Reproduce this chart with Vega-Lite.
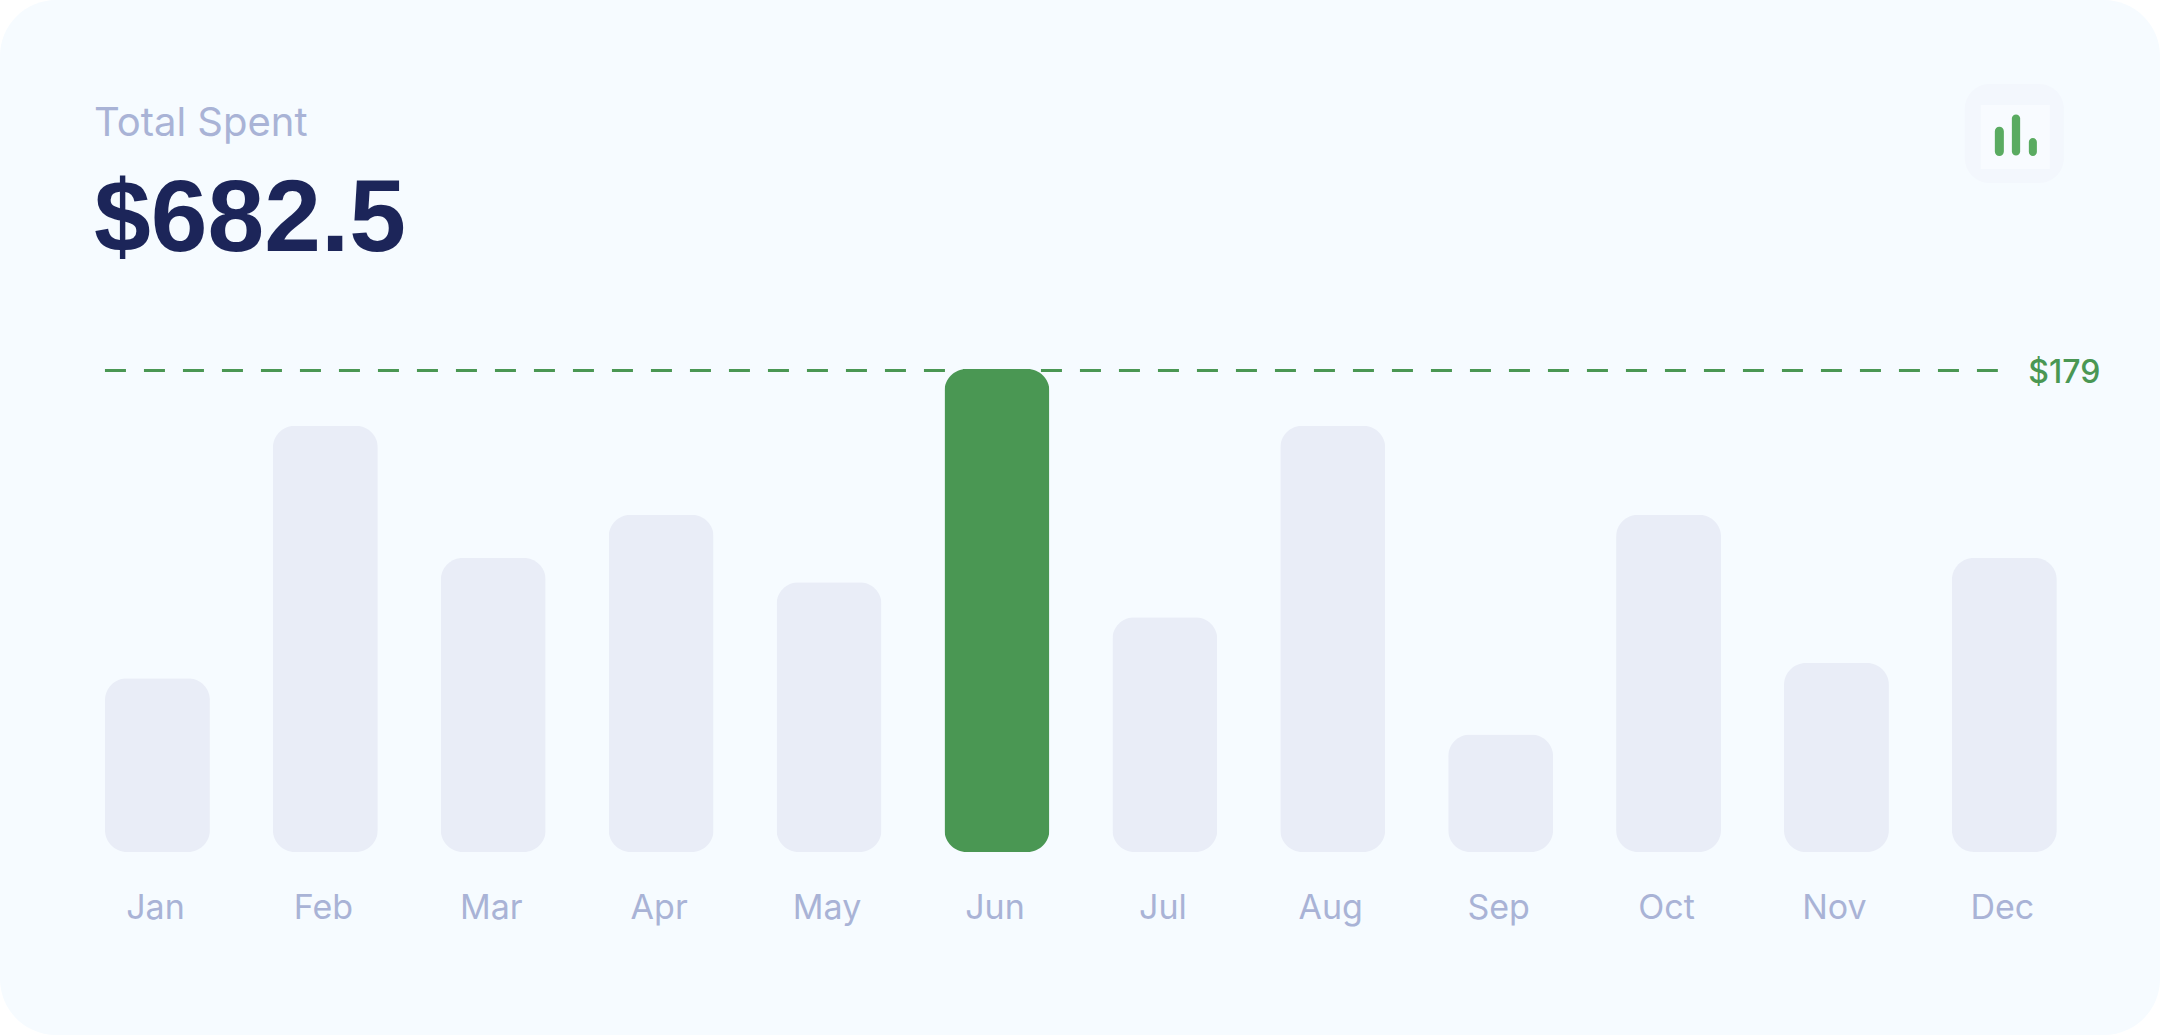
{
"$schema":"https://vega.github.io/schema/vega-lite/v6.json",
"width":2160,"height":1035,"padding":0,"autosize":{"type":"none"},
"background":"#ffffff",
"view":{"fill":"#f6fbff","stroke":null,"cornerRadius":56},
"title":{"text":"Total Spent","subtitle":"$682.5","anchor":"start","frame":"group","orient":"top","offset":-303,"dx":94,"baseline":"alphabetic","font":"Inter","fontSize":40,"fontWeight":400,"color":"#a9b3d6","subtitleFont":"Liberation Sans","subtitleFontSize":102,"subtitleFontWeight":700,"subtitleColor":"#1c2559","subtitlePadding":75},
"datasets":{
"months":[
{"month":"Jan","spent":64.4,"peak":false},{"month":"Feb","spent":158,"peak":false},{"month":"Mar","spent":109,"peak":false},{"month":"Apr","spent":125,"peak":false},{"month":"May","spent":100,"peak":false},{"month":"Jun","spent":179,"peak":true},{"month":"Jul","spent":87,"peak":false},{"month":"Aug","spent":158,"peak":false},{"month":"Sep","spent":43.5,"peak":false},{"month":"Oct","spent":125,"peak":false},{"month":"Nov","spent":70,"peak":false},{"month":"Dec","spent":109,"peak":false}],
"max":[{"start":"Jan","end":"Dec","value":179,"label":"$179"}],
"icon":[{"month":"Dec","value":266.3}]
},
"encoding":{
"x":{"field":"month","type":"nominal","sort":null,"scale":{"domain":["Jan","Feb","Mar","Apr","May","Jun","Jul","Aug","Sep","Oct","Nov","Dec"],"range":[73.5,2088.3],"paddingInner":0.375,"paddingOuter":0.1875},"axis":{"title":null,"domain":false,"ticks":false,"grid":false,"labelAngle":0,"labelFont":"Inter","labelFontSize":34,"labelColor":"#a9b3d6","labelPadding":0,"labelBaseline":"alphabetic","labelOffset":-2,"offset":-117}}
},
"layer":[
{"data":{"name":"max"},"mark":{"type":"rule","stroke":"#4a9753","strokeWidth":3,"strokeDash":[21,18],"yOffset":1.5,"xOffset":-52.5,"x2Offset":-6.5},
 "encoding":{"x":{"field":"start","type":"nominal","sort":null},"x2":{"field":"end"},"y":{"field":"value","type":"quantitative","scale":{"domain":[0,179],"range":[852,369],"nice":false},"axis":null}}},
{"data":{"name":"months"},"mark":{"type":"bar","cornerRadius":22},
 "encoding":{"y":{"field":"spent","type":"quantitative","axis":null},
 "color":{"field":"peak","type":"nominal","scale":{"domain":[false,true],"range":["#e9edf7","#4a9753"]},"legend":null}}},
{"data":{"name":"max"},"mark":{"type":"text","align":"left","baseline":"middle","font":"Inter","fontSize":32,"fontWeight":500,"color":"#4a9753","dx":24,"dy":4},
 "encoding":{"x":{"field":"end","type":"nominal","sort":null},"y":{"field":"value","type":"quantitative"},"text":{"field":"label"}}},
{"data":{"name":"icon"},"mark":{"type":"point","filled":true,"opacity":1,"size":9801,"xOffset":10,"fill":"#f3f7fd","stroke":null,"shape":"M-0.5,-1H0.5A0.5,0.5,0,0,1,1,-0.5V0.5A0.5,0.5,0,0,1,0.5,1H-0.5A0.5,0.5,0,0,1,-1,0.5V-0.5A0.5,0.5,0,0,1,-0.5,-1Z"},
 "encoding":{"y":{"field":"value","type":"quantitative"}}},
{"data":{"name":"icon"},"mark":{"type":"point","filled":true,"opacity":1,"size":9801,"xOffset":10,"fill":"#f8fbff","stroke":null,"shape":"M-0.677,-0.576H0.717V0.717H-0.677Z"},
 "encoding":{"y":{"field":"value","type":"quantitative"}}},
{"data":{"name":"icon"},"mark":{"type":"point","filled":true,"opacity":1,"size":9801,"xOffset":10,"fill":"#5aab61","stroke":null,"shape":"M-0.394,-0.046A0.091,0.091,0,0,1,-0.212,-0.046V0.364A0.091,0.091,0,0,1,-0.394,0.364ZM-0.05,-0.31A0.084,0.084,0,0,1,0.117,-0.31V0.371A0.084,0.084,0,0,1,-0.05,0.371ZM0.293,0.172A0.081,0.081,0,0,1,0.455,0.172V0.374A0.081,0.081,0,0,1,0.293,0.374Z"},
 "encoding":{"y":{"field":"value","type":"quantitative"}}}
]
}
